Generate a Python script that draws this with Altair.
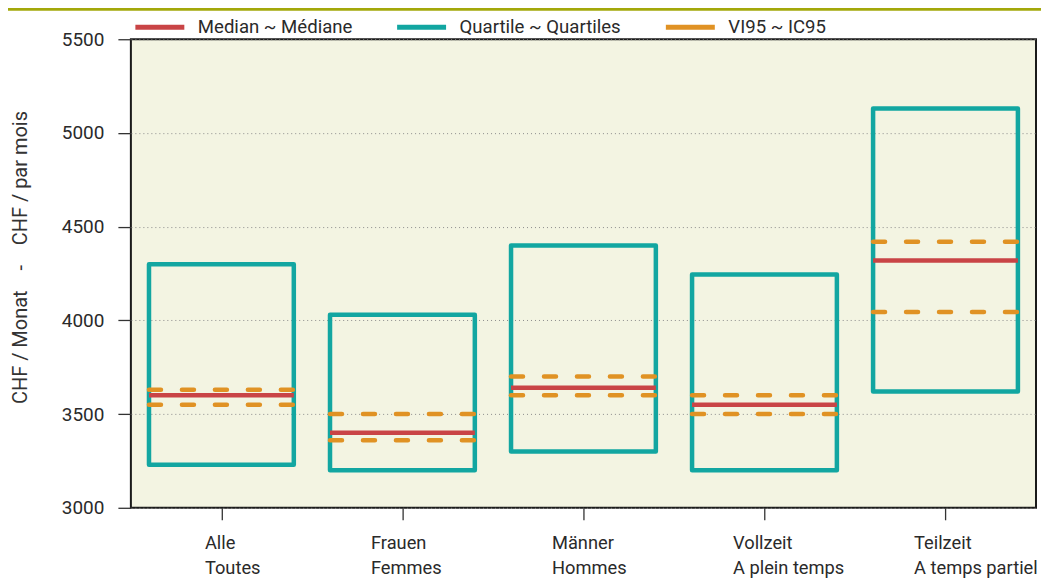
import altair as alt
import pandas as pd

# ---- data ----
cat_de = ["Alle", "Frauen", "Männer", "Vollzeit", "Teilzeit"]
cat_fr = ["Toutes", "Femmes", "Hommes", "A plein temps", "A temps partiel"]
q1 = [3230, 3200, 3300, 3200, 3620]
q3 = [4300, 4030, 4400, 4245, 5130]
median = [3600, 3400, 3640, 3550, 4320]
ci_low = [3550, 3360, 3600, 3500, 4045]
ci_high = [3630, 3500, 3700, 3600, 4420]
y_ticks = [3000, 3500, 4000, 4500, 5000, 5500]

legend_names = ["Median ~ Médiane", "Quartile ~ Quartiles", "VI95 ~ IC95"]
legend_colors = ["#c94446", "#12a6a1", "#e09224"]

idx = list(range(len(cat_de)))
df = pd.DataFrame({"idx": idx, "q1": q1, "q3": q3, "median": median})
df_ci = pd.DataFrame({
    "idx": idx + idx,
    "value": ci_low + ci_high,
})

FONT = "Roboto"
xscale = alt.Scale(domain=[-0.5, len(cat_de) - 0.5], nice=False, zero=False)
yscale = alt.Scale(domain=[y_ticks[0], y_ticks[-1]], nice=False, zero=False)
sscale = alt.Scale(domain=legend_names, range=legend_colors)

label_expr = "[%s[datum.value], %s[datum.value]]" % (
    "[" + ",".join("'%s'" % s for s in cat_de) + "]",
    "[" + ",".join("'%s'" % s for s in cat_fr) + "]",
)

NB = "\u00a0"
x_axis = alt.Axis(
    values=idx, labelExpr=label_expr, title=None, grid=False, domain=False,
    tickSize=12, tickColor="#333333", tickWidth=1.3,
    labelFontSize=18.3, labelColor="#2a2a2a", labelFont=FONT,
    labelAlign="left", labelBaseline="alphabetic", labelPadding=29,
    labelLineHeight=25, labelLimit=300,
    labelOffset={"condition": {"test": "datum.value == 0", "value": -17}, "value": -32},
)
y_axis = alt.Axis(
    values=y_ticks, format="d",
    title="CHF / Monat" + NB * 4 + "-" + NB * 4 + "CHF / par mois",
    grid=True, gridDash=[1, 3], gridColor="#8c8c8c", gridWidth=1,
    domain=False, tickSize=13, tickColor="#333333", tickWidth=1.3,
    labelFontSize=19, labelColor="#2a2a2a", labelFont=FONT, labelPadding=14,
    titleFontSize=20, titleFontWeight="normal", titleColor="#333333", titleFont=FONT,
    titleAngle=270, titleX=-104, titleY=218, titleBaseline="alphabetic", titleAlign="center",
    titleLimit=600,
)

legend = alt.Legend(
    title=None, orient="none", legendX=2, legendY=-39, direction="horizontal",
    symbolType="stroke", symbolSize=2401, symbolStrokeWidth=5,
    labelFontSize=18.6, labelFont=FONT, labelColor="#2a2a2a", labelOffset=11,
    columnPadding=34, symbolDash=[1, 0], labelLimit=400,
)

calc = dict(lo="datum.idx - 0.4", hi="datum.idx + 0.4")

base_top = alt.Chart(pd.DataFrame({"k": [0]})).mark_rule(
    color="#a3a80a", strokeWidth=3, clip=False
).encode(x=alt.value(-123), x2=alt.value(915), y=alt.value(-30))

med = alt.Chart(df).mark_rule(strokeWidth=4.5).encode(
    x=alt.X("lo:Q", scale=xscale, axis=x_axis),
    x2="hi:Q",
    y=alt.Y("median:Q", scale=yscale, axis=y_axis),
    stroke=alt.Stroke("s:N", scale=sscale, legend=legend),
).transform_calculate(s="'%s'" % legend_names[0], **calc)

ci = alt.Chart(df_ci).mark_rule(strokeWidth=4.5, strokeDash=[12, 21], strokeCap="round").encode(
    x=alt.X("lo:Q", scale=xscale, axis=x_axis),
    x2="hi:Q",
    y=alt.Y("value:Q", scale=yscale, axis=y_axis),
    stroke=alt.Stroke("s:N", scale=sscale, legend=legend),
).transform_calculate(s="'%s'" % legend_names[2], **calc)

box = alt.Chart(df).mark_rect(fill="transparent", strokeWidth=4.5, strokeJoin="round").encode(
    x=alt.X("lo:Q", scale=xscale, axis=x_axis),
    x2="hi:Q",
    y=alt.Y("q1:Q", scale=yscale, axis=y_axis),
    y2="q3:Q",
    stroke=alt.Stroke("s:N", scale=sscale, legend=legend),
).transform_calculate(s="'%s'" % legend_names[1], **calc)

chart = alt.layer(box, med, ci, base_top).properties(
    width=906, height=469,
    autosize=alt.AutoSizeParams(type="none"),
    padding={"left": 123, "top": 31, "right": 5, "bottom": 71},
    background="white",
).configure(font=FONT).configure_view(
    fill="#f3f4e2", stroke="#1a1a1a", strokeWidth=2
)

chart.save("out.html", embed_options={"renderer": "svg", "actions": False})
